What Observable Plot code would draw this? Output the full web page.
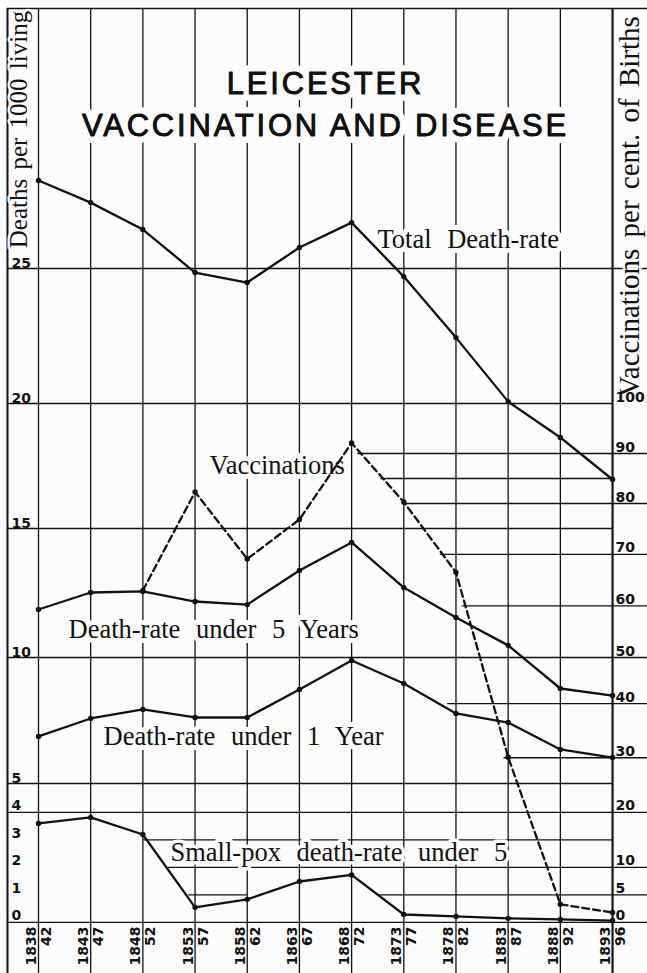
<!DOCTYPE html>
<html><head><meta charset="utf-8">
<script src="https://cdn.jsdelivr.net/npm/d3@7"></script>
<script src="https://cdn.jsdelivr.net/npm/@observablehq/plot@0.6"></script>
<style>
html,body{margin:0;padding:0;background:#fcfcfc;}
#chart svg{display:block;background:#fcfcfc;}
</style></head><body><div id="chart"></div>
<script>
// ---- data ----
const periodStart = [1838, 1843, 1848, 1853, 1858, 1863, 1868, 1873, 1878, 1883, 1888, 1893];
const periodEnd   = ["42", "47", "52", "57", "62", "67", "72", "77", "82", "87", "92", "96"];
const totalDeathRate  = [28.43, 27.57, 26.52, 24.85, 24.48, 25.82, 26.79, 24.70, 22.44, 20.07, 18.64, 16.96];
const under5DeathRate = [11.86, 12.52, 12.56, 12.17, 12.05, 13.37, 14.46, 12.71, 11.55, 10.47, 8.77, 8.49];
const under1DeathRate = [6.87, 7.58, 7.94, 7.62, 7.62, 8.73, 9.88, 8.97, 7.78, 7.42, 6.35, 6.03];
const smallpoxUnder5  = [3.6, 3.82, 3.2, 0.55, 0.84, 1.49, 1.73, 0.29, 0.22, 0.15, 0.11, 0.07];
const vaccYears    = [1848, 1853, 1858, 1863, 1868, 1873, 1878, 1883, 1888, 1893];
const vaccinations = [63.0, 82.3, 69.1, 76.8, 92.1, 80.3, 66.5, 30.1, 3.3, 1.8];
const deathTicks    = [5, 10, 15, 20, 25];
const smallpoxTicks = [0, 1, 2, 3, 4];
const vaccTicks     = [0, 5, 10, 20, 30, 40, 50, 60, 70, 80, 90, 100];
const titleLines = ["LEICESTER", "VACCINATION AND DISEASE"];
const leftTitle = "Deaths per 1000 living";
const rightTitle = "Vaccinations per cent. of Births";
const labelNames = ["Total Death-rate", "Vaccinations", "Death-rate under 5 Years",
                    "Death-rate under 1 Year", "Small-pox death-rate under 5"];

// ---- secondary scales, expressed in left-axis (deaths per 1000) units ----
const BASE = -0.42;            // left-axis value of the common zero line
const vaccToDeath = d3.scaleLinear().domain([0, 40, 50, 100]).range([BASE, 8.17, 10, 20]);
const poxToDeath  = d3.scaleLinear().domain([0, 4]).range([BASE, 3.87]);
const LEFT = 1835.03, RIGHT = 1896.35, END = 1893;

// horizontal rules: [axis, value, from, to]
const hGrid = [
  ["d", 35.14, LEFT, RIGHT], ["d", 25, LEFT, RIGHT], ["d", 20, LEFT, END], ["d", 17, 1870.8, END],
  ["d", 15, LEFT, END], ["d", 10, LEFT, RIGHT], ["d", 5, LEFT, END],
  ["v", 90, 1868.6, RIGHT], ["v", 80, 1872.9, RIGHT], ["v", 70, 1876.5, RIGHT], ["v", 60, 1878.6, RIGHT],
  ["v", 40, 1877.2, RIGHT], ["v", 30, 1882.6, RIGHT], ["v", 20, LEFT, RIGHT], ["p", 3, 1848.1, END],
  ["v", 10, 1850.4, RIGHT], ["v", 5, 1852.4, 1858], ["v", 5, 1870.5, RIGHT], ["v", 0, LEFT, RIGHT]
].map(([a, v, from, to]) => ({y: a === "d" ? v : a === "v" ? vaccToDeath(v) : poxToDeath(v), from, to}));

const rows = periodStart.map((p, i) => ({p, end: periodEnd[i], total: totalDeathRate[i],
  u5: under5DeathRate[i], u1: under1DeathRate[i], pox: poxToDeath(smallpoxUnder5[i])}));
const vrows = vaccYears.map((p, i) => ({p, y: vaccToDeath(vaccinations[i])}));

const ink = "#111", paper = "#fcfcfc";
const numFont = {fontFamily: "DejaVu Sans", fontWeight: "bold", fontSize: 14, fill: ink};
const serif = {fontFamily: "Liberation Serif", fill: ink};
const seriesLine = {x: "p", stroke: ink, strokeWidth: 2.3};
const at = (px, py) => ({frameAnchor: "top-left", dx: px - 7, dy: py - 8});
const seriesLabel = (name, px, py, halo = 10) => Plot.text([name], {...at(px, py), text: d => d,
  textAnchor: "start", lineAnchor: "bottom", fontSize: 26.5, ...serif, stroke: paper, strokeWidth: halo});
const titleText = (line, py) => [
  Plot.text([line], {...at(325, py), text: d => d, fontFamily: "Liberation Sans", fontSize: 31,
    textAnchor: "middle", lineAnchor: "bottom", fill: ink, stroke: paper, strokeWidth: 14}),
  Plot.text([line], {...at(325, py), text: d => d, fontFamily: "Liberation Sans", fontSize: 31,
    textAnchor: "middle", lineAnchor: "bottom", fill: ink, stroke: ink, strokeWidth: 0.8})
];

const chart = Plot.plot({
  width: 647, height: 973,
  marginLeft: 7, marginRight: 0, marginTop: 8, marginBottom: 0,
  style: {background: paper},
  x: {type: "linear", domain: [LEFT, RIGHT], axis: null},
  y: {type: "linear", domain: [-2.41, 5, 10, 15, 20, 25, 35.14], range: [973, 783, 657, 528, 403, 268, 8], axis: null},
  marks: [
    Plot.ruleY(hGrid, {y: "y", x1: "from", x2: "to", stroke: ink, strokeWidth: 1.3}),
    Plot.ruleX(periodStart, {x: d => d, stroke: ink, strokeWidth: 1.3}),
    Plot.ruleX([LEFT, END], {x: d => d, stroke: ink, strokeWidth: 2}),
    // title
    ...titleText(titleLines[0], 93),
    ...titleText(titleLines[1], 135),
    // axis titles
    Plot.text([leftTitle], {...at(9, 129), text: d => d, rotate: -90, textAnchor: "middle",
      fontSize: 25, ...serif, stroke: paper, strokeWidth: 5}),
    Plot.text([rightTitle], {...at(618, 206), text: d => d, rotate: -90, textAnchor: "middle",
      fontSize: 29, ...serif, stroke: paper, strokeWidth: 5}),
    // series labels
    seriesLabel(labelNames[0], 377, 247),
    seriesLabel(labelNames[1], 209, 473),
    seriesLabel(labelNames[2], 68, 637),
    seriesLabel(labelNames[3], 103, 744),
    seriesLabel(labelNames[4], 170, 860, 7),
    // tick labels
    Plot.text(deathTicks, {frameAnchor: "left", y: d => d, text: d => String(d), dx: 4, dy: -1,
      textAnchor: "start", lineAnchor: "bottom", ...numFont}),
    Plot.text(smallpoxTicks, {frameAnchor: "left", y: d => poxToDeath(d), text: d => String(d), dx: 4, dy: -2,
      textAnchor: "start", lineAnchor: "bottom", ...numFont}),
    Plot.text(vaccTicks, {x: END, y: d => vaccToDeath(d), text: d => String(d), dx: 3, dy: -2,
      textAnchor: "start", lineAnchor: "bottom", ...numFont}),
    Plot.text(rows, {x: "p", y: BASE, text: d => String(d.p), rotate: -90, textAnchor: "end", dx: -7, dy: 4, ...numFont}),
    Plot.text(rows, {x: "p", y: BASE, text: "end", rotate: -90, textAnchor: "end", dx: 8, dy: 4, ...numFont}),
    // series
    Plot.line(rows, {...seriesLine, y: "total"}),
    Plot.line(rows, {...seriesLine, y: "u5"}),
    Plot.line(rows, {...seriesLine, y: "u1"}),
    Plot.line(rows, {...seriesLine, y: "pox"}),
    Plot.line(vrows, {x: "p", y: "y", stroke: ink, strokeWidth: 2.3, strokeDasharray: "7,4"}),
    Plot.dot(rows, {x: "p", y: "total", r: 2.7, fill: ink}),
    Plot.dot(rows, {x: "p", y: "u5", r: 2.7, fill: ink}),
    Plot.dot(rows, {x: "p", y: "u1", r: 2.7, fill: ink}),
    Plot.dot(rows, {x: "p", y: "pox", r: 2.7, fill: ink}),
    Plot.dot(vrows, {x: "p", y: "y", r: 2.7, fill: ink})
  ]
});
// typographic spacing of the engraved labels
d3.select(chart).selectAll("text").each(function () {
  const t = this.textContent;
  if (titleLines.includes(t)) this.style.letterSpacing = "2.8px";
  else if (labelNames.includes(t)) this.style.wordSpacing = "9px";
  else if (t === leftTitle) this.style.wordSpacing = "3px";
  else if (t === rightTitle) this.style.wordSpacing = "4px";
});
document.getElementById("chart").appendChild(chart);
</script></body></html>
